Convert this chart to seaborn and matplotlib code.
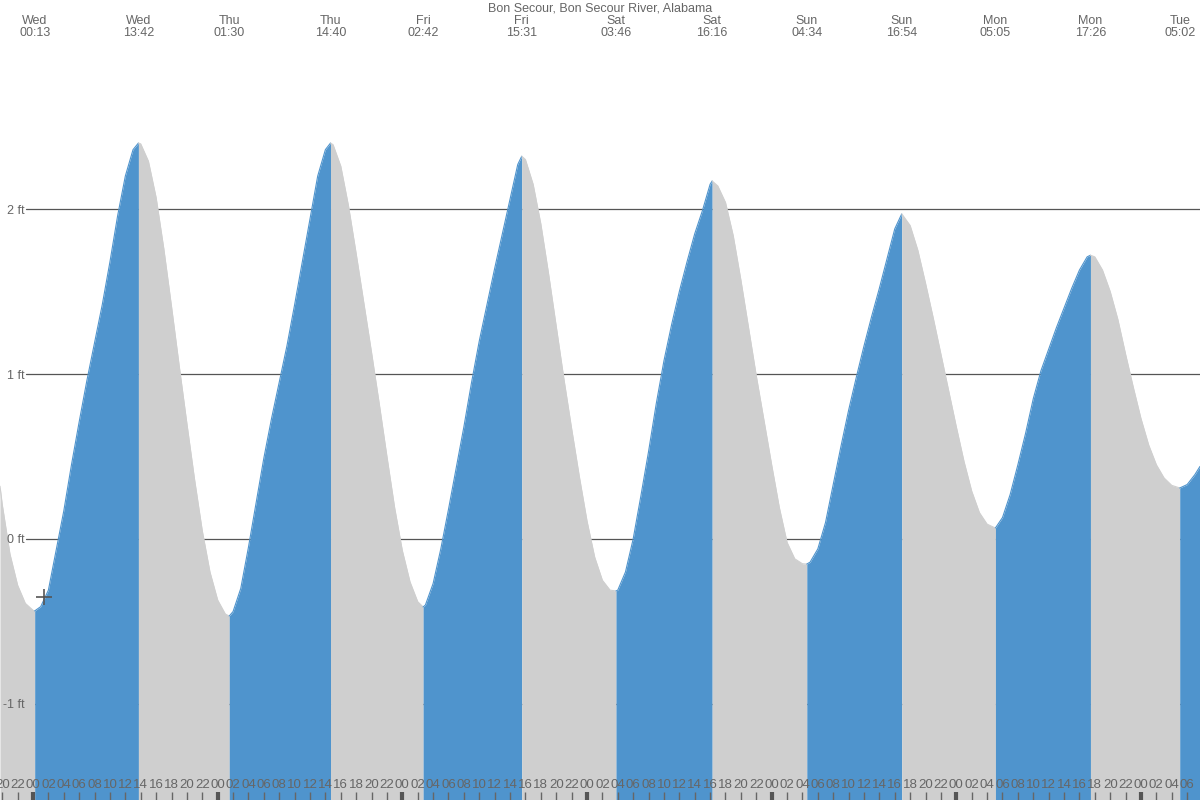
import numpy as np
import pandas as pd
import matplotlib
matplotlib.use("Agg")
import matplotlib.pyplot as plt
import matplotlib.transforms as mtransforms
import seaborn as sns

# ---------------- data ----------------
title = "Bon Secour, Bon Secour River, Alabama"
day_names = ["Wed", "Thu", "Fri", "Sat", "Sun", "Mon", "Tue"]

extreme_days = ["Wed", "Wed", "Thu", "Thu", "Fri", "Fri", "Sat", "Sat",
                "Sun", "Sun", "Mon", "Mon", "Tue"]
extreme_clock = ["00:13", "13:42", "01:30", "14:40", "02:42", "15:31", "03:46",
                 "16:16", "04:34", "16:54", "05:05", "17:26", "05:02"]
extreme_ft = [-0.436, 2.40, -0.467, 2.40, -0.412, 2.32, -0.315, 2.17,
              -0.152, 1.97, 0.067, 1.72, 0.309]

# water level, hours since Wed 00:00
curve_hours = [-4.29, -4, -3, -2, -1, 0,
               1, 2, 3, 4, 5, 6, 7, 8, 9, 10, 11, 12, 13,
               14, 15, 16, 17, 18, 19, 20, 21, 22, 23, 24, 25,
               26, 27, 28, 29, 30, 31, 32, 33, 34, 35, 36, 37, 38,
               39, 40, 41, 42, 43, 44, 45, 46, 47, 48, 49, 50,
               51, 52, 53, 54, 55, 56, 57, 58, 59, 60, 61, 62, 63,
               64, 65, 66, 67, 68, 69, 70, 71, 72, 73, 74, 75,
               76, 77, 78, 79, 80, 81, 82, 83, 84, 85, 86, 87, 88,
               89, 90, 91, 92, 93, 94, 95, 96, 97, 98, 99, 100,
               101, 102, 103, 104, 105, 106, 107, 108, 109, 110, 111, 112,
               113, 114, 115, 116, 117, 118, 119, 120, 121, 122, 123, 124, 125,
               126, 127, 128, 129, 130, 131, 132, 133, 134, 135, 136, 137,
               138, 139, 140, 141, 142, 143, 144, 145, 146, 147, 148, 149,
               150, 151, 151.67]
curve_ft = [0.32, 0.21, -0.09, -0.28, -0.39, -0.432,
            -0.41, -0.31, -0.07, 0.17, 0.45, 0.71, 0.96, 1.19, 1.42, 1.68, 1.96, 2.20, 2.36,
            2.395, 2.29, 2.07, 1.76, 1.41, 1.05, 0.70, 0.36, 0.05, -0.20, -0.37, -0.455,
            -0.44, -0.30, -0.05, 0.22, 0.49, 0.73, 0.95, 1.17, 1.42, 1.68, 1.94, 2.20, 2.36,
            2.39, 2.26, 2.02, 1.73, 1.43, 1.13, 0.82, 0.50, 0.19, -0.07, -0.26, -0.38,
            -0.40, -0.27, -0.06, 0.18, 0.43, 0.68, 0.95, 1.20, 1.42, 1.64, 1.85, 2.06, 2.27,
            2.30, 2.15, 1.91, 1.61, 1.29, 0.97, 0.67, 0.38, 0.11, -0.11, -0.25, -0.31,
            -0.31, -0.20, 0.00, 0.26, 0.53, 0.82, 1.08, 1.30, 1.50, 1.68, 1.85, 1.99, 2.15,
            2.14, 2.04, 1.84, 1.57, 1.28, 0.99, 0.72, 0.45, 0.19, -0.02, -0.12, -0.15,
            -0.14, -0.06, 0.10, 0.33, 0.56, 0.78, 0.98, 1.17, 1.35, 1.52, 1.70, 1.88,
            1.965, 1.90, 1.75, 1.55, 1.34, 1.12, 0.90, 0.68, 0.47, 0.29, 0.16, 0.09, 0.068,
            0.13, 0.27, 0.45, 0.64, 0.85, 1.02, 1.15, 1.28, 1.40, 1.52, 1.63, 1.71,
            1.71, 1.63, 1.50, 1.33, 1.12, 0.92, 0.73, 0.57, 0.45, 0.37, 0.325, 0.31,
            0.33, 0.39, 0.44]

ytick_values = [-1, 0, 1, 2]
ytick_labels = ["-1 ft", "0 ft", "1 ft", "2 ft"]
now_hour, now_ft = 1.43, -0.35

# ---------------- derived ----------------
def to_hours(day, clock):
    hh, mm = clock.split(":")
    return day_names.index(day) * 24 + int(hh) + int(mm) / 60.0

extreme_hours = [to_hours(d, c) for d, c in zip(extreme_days, extreme_clock)]

df = pd.DataFrame({"hour": curve_hours + extreme_hours,
                   "ft": curve_ft + extreme_ft})
df = df.sort_values("hour").drop_duplicates("hour").reset_index(drop=True)

BLUE = "#4f94cd"
GRAY = "#cfcfcf"
TXT = "#666666"

X0, X1 = -4.29, 151.67
Y0, Y1 = -1.582, 3.267

sns.set_theme(style="white")
plt.rcParams["font.family"] = ["Liberation Sans", "DejaVu Sans"]

fig = plt.figure(figsize=(12, 8), dpi=100)
ax = fig.add_axes([0, 0, 1, 1])
ax.set_xlim(X0, X1)
ax.set_ylim(Y0, Y1)
for s in ax.spines.values():
    s.set_visible(False)
ax.set_facecolor("white")
ax.set_axisbelow(False)

# grid lines behind fills
for yv in ytick_values:
    ax.axhline(yv, xmin=26 / 1200, xmax=1, color="#555555", lw=0.9, zorder=0)

# segments between extremes
bounds = [X0] + extreme_hours + [X1]
for i in range(len(bounds) - 1):
    a, b = bounds[i], bounds[i + 1]
    seg = df[(df.hour >= a) & (df.hour <= b)]
    rising = seg.ft.iloc[-1] > seg.ft.iloc[0]
    col = BLUE if rising else GRAY
    ax.fill_between(seg.hour, seg.ft, Y0, color=col, lw=0, zorder=1)
    sns.lineplot(x=seg.hour.values, y=seg.ft.values, ax=ax, color=col,
                 lw=0.8, sort=False, zorder=1.5, legend=False)

# current time marker
ax.plot([now_hour], [now_ft], marker="+", ms=11, mew=1.2, color="#555555", zorder=5)

# x ticks every 2 hours
major = [h for h in range(-4, 152, 2) if h % 24 == 0]
minor = [h for h in range(-4, 152, 2) if h % 24 != 0]
ax.set_xticks(major)
ax.set_xticklabels(["%02d" % (h % 24) for h in major])
ax.set_xticks(minor, minor=True)
ax.set_xticklabels(["%02d" % (h % 24) for h in minor], minor=True)
ax.tick_params(axis="x", which="both", direction="in", bottom=True, length=6,
               pad=-15.3, labelsize=9.5, labelcolor=TXT)
ax.tick_params(axis="x", which="major", width=3, color="#555555")
ax.tick_params(axis="x", which="minor", width=1, color="#666666")

# y labels
ax.set_yticks(ytick_values)
ax.set_yticklabels(ytick_labels)
ax.tick_params(axis="y", left=False, length=0, pad=-17.5, labelsize=9,
               labelcolor=TXT)
for lab in ax.get_yticklabels():
    lab.set_horizontalalignment("right")
ax.grid(False)

# top labels
trans = mtransforms.blended_transform_factory(ax.transData, fig.transFigure)
for h, d, c in zip(extreme_hours, extreme_days, extreme_clock):
    ax.text(h, 1 - 20.5 / 800, d, transform=trans, ha="center", va="center",
            fontsize=9, color=TXT, zorder=6)
    ax.text(h, 1 - 33.5 / 800, c, transform=trans, ha="center", va="center",
            fontsize=9, color=TXT, zorder=6)
fig.text(0.5, 1 - 8.5 / 800, title, ha="center", va="center", fontsize=9, color=TXT)

fig.savefig("out.png", dpi=100)
